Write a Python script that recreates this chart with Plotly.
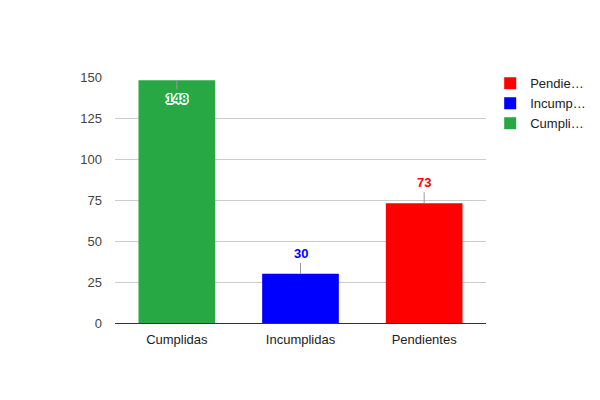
import plotly.graph_objects as go

categories = ["Cumplidas", "Incumplidas", "Pendientes"]
values = [148, 30, 73]
legend_names = ["Cumpli…", "Incump…", "Pendie…"]
colors = ["#28a745", "#0000ff", "#ff0000"]
y_ticks = [0, 25, 50, 75, 100, 125, 150]

fig = go.Figure()
for cat, val, name, col in zip(categories, values, legend_names, colors):
    fig.add_trace(go.Bar(
        x=[cat], y=[val], name=name,
        marker=dict(color=col, line=dict(width=0)),
        width=0.62,
        hoverinfo="x+y",
    ))

# value labels with little stems, like the original
outline = ("-1px -1px 0 white, 1px -1px 0 white, -1px 1px 0 white, 1px 1px 0 white, "
           "0 -1.5px 0 white, 0 1.5px 0 white, -1.5px 0 0 white, 1.5px 0 0 white")
for cat, val, col in zip(categories, values, colors):
    inside = val > 140
    fig.add_annotation(
        x=cat, y=val, xref="x", yref="y",
        text="<b>%d</b>" % val,
        showarrow=True, arrowhead=0, arrowwidth=1, arrowcolor="#999999",
        ax=0, ay=9 if inside else -11,
        standoff=0,
        font=dict(family="Arial, Liberation Sans, sans-serif", size=13, color=col,
                  shadow=outline if inside else "none"),
        yanchor="top" if inside else "bottom",
    )

fig.update_layout(
    width=600, height=400,
    autosize=False,
    barmode="overlay",
    paper_bgcolor="white", plot_bgcolor="white",
    font=dict(family="Arial, Liberation Sans, sans-serif", size=13, color="#444444"),
    margin=dict(l=115, r=114, t=77, b=77, autoexpand=False),
    showlegend=True,
    legend=dict(traceorder="reversed", xref="container", yref="container",
                x=0.817, y=0.829, xanchor="left", yanchor="top",
                font=dict(size=13, color="#222222"), itemwidth=30, tracegroupgap=2),
    xaxis=dict(showgrid=False, showline=True, linecolor="#333333", linewidth=1,
               ticks="", ticklabelstandoff=4, tickfont=dict(size=13, color="#222222")),
    yaxis=dict(range=[0, 150], tickvals=y_ticks, gridcolor="#cccccc", zeroline=False,
               showline=False, ticks="", ticklabelstandoff=12,
               tickfont=dict(size=13, color="#444444")),
)

fig.write_html("out.html", config={"displayModeBar": False},
               post_script="document.body.style.margin='0';")
